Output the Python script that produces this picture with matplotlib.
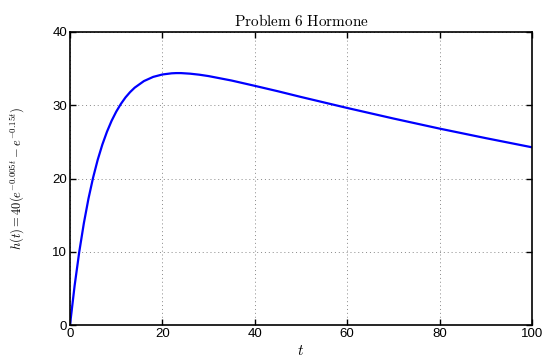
import matplotlib
matplotlib.use("Agg")
import matplotlib.pyplot as plt

# values
t_vals = [0, 1, 2, 3, 4, 5, 6, 7, 8, 9, 10, 11, 12, 13, 14, 16, 18, 20, 22, 23,
          24, 26, 28, 30, 35, 40, 45, 50, 60, 70, 80, 90, 100]
h_vals = [0.0, 5.37, 9.97, 13.90, 17.26, 20.12, 22.56, 24.63, 26.38, 27.87, 29.12,
          30.17, 31.06, 31.79, 32.40, 33.30, 33.87, 34.20, 34.36, 34.39,
          34.39, 34.31, 34.17, 33.98, 33.37, 32.65, 31.91, 31.13, 29.63, 28.19,
          26.81, 25.51, 24.26]

x_ticks = [0, 20, 40, 60, 80, 100]
y_ticks = [0, 10, 20, 30, 40]

plt.rcParams['mathtext.fontset'] = 'cm'
plt.rcParams['font.family'] = 'Liberation Sans'

fig = plt.figure(figsize=(5.42, 3.6), dpi=100)
ax = fig.add_axes([70 / 542, 1 - 325 / 360, 462 / 542, 293 / 360])

ax.plot(t_vals, h_vals, color='#0000ff', linewidth=1.6)

ax.set_xlim(0, 100)
ax.set_ylim(0, 40)
ax.set_xticks(x_ticks)
ax.set_yticks(y_ticks)
ax.tick_params(direction='in', length=4, width=1, labelsize=9.5, pad=2,
               top=True, right=True)
for s in ax.spines.values():
    s.set_linewidth(1.2)
ax.grid(True, linestyle=(0, (1, 3)), color='#888888', linewidth=0.7)

ax.set_title(r'$\mathrm{Problem\ 6\ Hormone}$', fontsize=11, pad=4)
ax.set_xlabel(r'$t$', fontsize=11, labelpad=3)
ax.set_ylabel(r'$h(t) = 40(e^{-0.005t} - e^{-0.15t})$', fontsize=9, labelpad=18)

fig.savefig('out.png', dpi=100)
